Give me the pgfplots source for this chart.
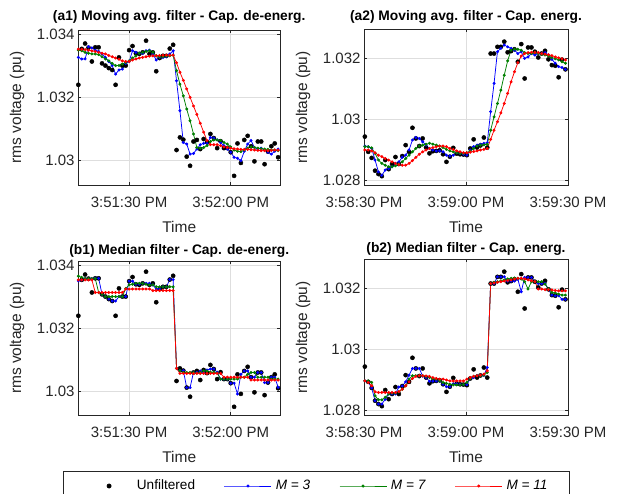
\documentclass[border=0pt]{standalone}
\usepackage{fontspec}
\setmainfont{Liberation Sans}
\usepackage{pgfplots}
\usepackage{pgfplotstable}
\pgfplotsset{compat=1.18}

\definecolor{mblue}{rgb}{0,0,1}
\definecolor{mgreen}{rgb}{0,0.5,0}
\definecolor{mred}{rgb}{1,0,0}
\definecolor{axgray}{rgb}{0.15,0.15,0.15}

% (a1)/(b1): seconds after 3:51:00 PM
\pgfplotstableread{
t u m3 m7 m11
15 1.03241 1.03328 1.03351 1.03354
16 1.03355 1.03323 1.03349 1.03354
17 1.03372 1.03323 1.03344 1.03353
18 1.03359 1.03362 1.03341 1.03351
19 1.03315 1.03358 1.03339 1.03349
20 1.03360 1.03351 1.03339 1.03347
21 1.03360 1.03347 1.03337 1.03344
22 1.03309 1.03339 1.03330 1.03341
23 1.03302 1.03328 1.03323 1.03339
24 1.03294 1.03315 1.03317 1.03334
25 1.03288 1.03302 1.03309 1.03330
26 1.03241 1.03275 1.03302 1.03326
27 1.03328 1.03288 1.03302 1.03322
28 1.03302 1.03291 1.03307 1.03317
29 1.03302 1.03309 1.03312 1.03315
30 1.03351 1.03315 1.03317 1.03315
31 1.03364 1.03349 1.03326 1.03320
32 1.03341 1.03344 1.03333 1.03323
33 1.03339 1.03341 1.03341 1.03326
34 1.03344 1.03341 1.03344 1.03328
35 1.03381 1.03349 1.03347 1.03330
36 1.03339 1.03351 1.03349 1.03332
37 1.03344 1.03339 1.03344 1.03333
38 1.03284 1.03320 1.03333 1.03333
39 1.03326 1.03328 1.03330 1.03334
40 1.03333 1.03328 1.03330 1.03335
41 1.03333 1.03330 1.03332 1.03335
42 1.03356 1.03339 1.03333 1.03335
43 1.03368 1.03349 1.03335 1.03335
44 1.03034 1.03254 1.03286 1.03311
45 1.03074 1.03159 1.03243 1.03281
46 1.03067 1.03058 1.03206 1.03255
47 1.03013 1.03053 1.03164 1.03228
48 1.02984 1.03021 1.03127 1.03201
49 1.03061 1.03023 1.03085 1.03174
50 1.03066 1.03037 1.03042 1.03147
51 1.03037 1.03051 1.03040 1.03119
52 1.03069 1.03055 1.03042 1.03091
53 1.03059 1.03055 1.03048 1.03064
54 1.03085 1.03074 1.03061 1.03051
55 1.03072 1.03072 1.03066 1.03051
56 1.03040 1.03066 1.03066 1.03051
57 1.03062 1.03058 1.03064 1.03048
58 1.03040 1.03048 1.03058 1.03044
59 1.03040 1.03037 1.03053 1.03042
60 1.03027 1.03027 1.03044 1.03040
61 1.02952 1.03011 1.03034 1.03038
62 1.03055 1.03008 1.03030 1.03037
63 1.02993 1.03000 1.03029 1.03036
64 1.03066 1.03030 1.03034 1.03036
65 1.03079 1.03053 1.03040 1.03036
66 1.03046 1.03064 1.03044 1.03035
67 1.02998 1.03042 1.03042 1.03034
68 1.03061 1.03037 1.03040 1.03033
69 1.03061 1.03040 1.03038 1.03032
70 1.02989 1.03034 1.03037 1.03032
71 1.03029 1.03027 1.03036 1.03032
72 1.03046 1.03021 1.03034 1.03033
73 1.03055 1.03030 1.03034 1.03034
74 1.03011 1.03037 1.03032 1.03034
}\tabAone

\pgfplotstableread{
t m3 m7 m11
15 1.03352 1.03367 1.03355
16 1.03355 1.03363 1.03355
17 1.03359 1.03359 1.03355
18 1.03359 1.03359 1.03355
19 1.03359 1.03359 1.03355
20 1.03360 1.03359 1.03315
21 1.03360 1.03315 1.03315
22 1.03309 1.03309 1.03315
23 1.03302 1.03302 1.03315
24 1.03294 1.03302 1.03315
25 1.03288 1.03302 1.03315
26 1.03288 1.03302 1.03315
27 1.03302 1.03302 1.03315
28 1.03302 1.03302 1.03315
29 1.03302 1.03328 1.03326
30 1.03351 1.03339 1.03326
31 1.03351 1.03341 1.03326
32 1.03341 1.03344 1.03326
33 1.03341 1.03344 1.03326
34 1.03344 1.03344 1.03326
35 1.03344 1.03341 1.03326
36 1.03344 1.03339 1.03326
37 1.03339 1.03339 1.03321
38 1.03326 1.03333 1.03321
39 1.03326 1.03333 1.03321
40 1.03333 1.03333 1.03321
41 1.03333 1.03333 1.03321
42 1.03356 1.03333 1.03321
43 1.03356 1.03333 1.03321
44 1.03074 1.03074 1.03074
45 1.03067 1.03067 1.03058
46 1.03067 1.03061 1.03058
47 1.03013 1.03061 1.03058
48 1.03013 1.03061 1.03058
49 1.03061 1.03061 1.03058
50 1.03061 1.03059 1.03058
51 1.03066 1.03061 1.03058
52 1.03059 1.03066 1.03058
53 1.03069 1.03066 1.03058
54 1.03072 1.03062 1.03058
55 1.03072 1.03062 1.03058
56 1.03062 1.03059 1.03058
57 1.03040 1.03040 1.03058
58 1.03040 1.03040 1.03046
59 1.03040 1.03040 1.03046
60 1.03027 1.03040 1.03046
61 1.03027 1.03040 1.03046
62 1.02993 1.03040 1.03046
63 1.03055 1.03046 1.03046
64 1.03066 1.03046 1.03046
65 1.03066 1.03055 1.03046
66 1.03046 1.03061 1.03037
67 1.03046 1.03061 1.03037
68 1.03061 1.03046 1.03037
69 1.03061 1.03046 1.03037
70 1.03029 1.03046 1.03037
71 1.03029 1.03046 1.03037
72 1.03046 1.03040 1.03037
73 1.03046 1.03040 1.03037
74 1.03014 1.03040 1.03037
}\tabBone

% (a2)/(b2): seconds after 3:58:00 PM
\pgfplotstableread{
t u m3 m7 m11
30.25 1.02943 1.02912 1.02910 1.02899
31.25 1.02893 1.02910 1.02910 1.02899
32.25 1.02873 1.02904 1.02906 1.02896
33.25 1.02831 1.02866 1.02888 1.02890
34.25 1.02820 1.02827 1.02866 1.02882
35.25 1.02813 1.02816 1.02855 1.02877
36.25 1.02866 1.02833 1.02849 1.02871
37.25 1.02836 1.02838 1.02844 1.02866
38.25 1.02853 1.02844 1.02844 1.02860
39.25 1.02876 1.02855 1.02847 1.02855
40.25 1.02853 1.02860 1.02853 1.02851
41.25 1.02879 1.02875 1.02860 1.02849
42.25 1.02915 1.02882 1.02871 1.02849
43.25 1.02893 1.02899 1.02882 1.02855
44.25 1.02972 1.02932 1.02893 1.02864
45.25 1.02937 1.02940 1.02904 1.02875
46.25 1.02912 1.02937 1.02912 1.02885
47.25 1.02937 1.02926 1.02915 1.02893
48.25 1.02907 1.02915 1.02918 1.02899
49.25 1.02888 1.02904 1.02921 1.02904
50.25 1.02895 1.02899 1.02918 1.02907
51.25 1.02896 1.02896 1.02915 1.02910
52.25 1.02898 1.02896 1.02912 1.02912
53.25 1.02885 1.02893 1.02907 1.02912
54.25 1.02860 1.02882 1.02901 1.02910
55.25 1.02877 1.02879 1.02896 1.02904
56.25 1.02906 1.02882 1.02893 1.02901
57.25 1.02887 1.02890 1.02890 1.02896
58.25 1.02885 1.02888 1.02888 1.02893
59.25 1.02884 1.02885 1.02888 1.02890
60.25 1.02882 1.02882 1.02890 1.02890
61.25 1.02904 1.02899 1.02896 1.02892
62.25 1.02934 1.02910 1.02904 1.02894
63.25 1.02907 1.02915 1.02912 1.02896
64.25 1.02914 1.02918 1.02915 1.02899
65.25 1.02940 1.02921 1.02916 1.02901
66.25 1.02907 1.02923 1.02918 1.02904
67.25 1.03216 1.03025 1.02964 1.02934
68.25 1.03216 1.03118 1.03008 1.02964
69.25 1.03238 1.03222 1.03052 1.02992
70.25 1.03238 1.03233 1.03096 1.03021
71.25 1.03255 1.03244 1.03145 1.03052
72.25 1.03220 1.03238 1.03192 1.03085
73.25 1.03224 1.03233 1.03227 1.03123
74.25 1.03230 1.03227 1.03230 1.03156
75.25 1.03189 1.03216 1.03230 1.03186
76.25 1.03247 1.03222 1.03227 1.03208
77.25 1.03134 1.03200 1.03219 1.03216
78.25 1.03236 1.03205 1.03216 1.03219
79.25 1.03236 1.03216 1.03216 1.03220
80.25 1.03222 1.03211 1.03219 1.03220
81.25 1.03203 1.03216 1.03216 1.03219
82.25 1.03216 1.03216 1.03214 1.03216
83.25 1.03225 1.03219 1.03211 1.03214
84.25 1.03197 1.03211 1.03208 1.03212
85.25 1.03178 1.03197 1.03203 1.03209
86.25 1.03176 1.03184 1.03199 1.03205
87.25 1.03138 1.03173 1.03195 1.03202
88.25 1.03196 1.03170 1.03189 1.03199
89.25 1.03164 1.03164 1.03184 1.03195
}\tabAtwo

\pgfplotstableread{
t m3 m7 m11
30.25 1.02896 1.02896 1.02896
31.25 1.02893 1.02896 1.02891
32.25 1.02873 1.02891 1.02880
33.25 1.02831 1.02847 1.02860
34.25 1.02820 1.02834 1.02858
35.25 1.02820 1.02834 1.02858
36.25 1.02836 1.02842 1.02858
37.25 1.02853 1.02853 1.02858
38.25 1.02853 1.02856 1.02858
39.25 1.02853 1.02856 1.02858
40.25 1.02876 1.02860 1.02861
41.25 1.02879 1.02869 1.02869
42.25 1.02893 1.02880 1.02880
43.25 1.02915 1.02902 1.02893
44.25 1.02937 1.02913 1.02904
45.25 1.02937 1.02913 1.02911
46.25 1.02937 1.02913 1.02913
47.25 1.02912 1.02913 1.02913
48.25 1.02907 1.02911 1.02912
49.25 1.02895 1.02907 1.02911
50.25 1.02895 1.02904 1.02907
51.25 1.02896 1.02902 1.02904
52.25 1.02896 1.02896 1.02902
53.25 1.02885 1.02891 1.02902
54.25 1.02877 1.02888 1.02899
55.25 1.02877 1.02885 1.02896
56.25 1.02887 1.02883 1.02896
57.25 1.02887 1.02883 1.02896
58.25 1.02885 1.02883 1.02896
59.25 1.02884 1.02884 1.02896
60.25 1.02884 1.02891 1.02902
61.25 1.02904 1.02904 1.02907
62.25 1.02907 1.02911 1.02911
63.25 1.02914 1.02913 1.02913
64.25 1.02914 1.02913 1.02915
65.25 1.02914 1.02915 1.02918
66.25 1.02940 1.02924 1.02929
67.25 1.03216 1.03216 1.03216
68.25 1.03216 1.03220 1.03218
69.25 1.03238 1.03222 1.03220
70.25 1.03238 1.03225 1.03222
71.25 1.03238 1.03228 1.03224
72.25 1.03224 1.03231 1.03226
73.25 1.03224 1.03233 1.03228
74.25 1.03224 1.03234 1.03231
75.25 1.03230 1.03233 1.03233
76.25 1.03189 1.03231 1.03233
77.25 1.03236 1.03222 1.03231
78.25 1.03236 1.03198 1.03228
79.25 1.03236 1.03222 1.03225
80.25 1.03222 1.03222 1.03222
81.25 1.03216 1.03222 1.03198
82.25 1.03216 1.03222 1.03198
83.25 1.03216 1.03214 1.03196
84.25 1.03197 1.03198 1.03196
85.25 1.03178 1.03187 1.03195
86.25 1.03176 1.03185 1.03193
87.25 1.03176 1.03181 1.03192
88.25 1.03164 1.03178 1.03192
89.25 1.03164 1.03178 1.03192
}\tabBtwo

\pgfplotsset{
  base/.style={
    scale only axis,
    anchor=south west,
    axis line style={draw=axgray, line width=0.6pt},
    tick style={draw=axgray, line width=0.6pt},
    major tick length=3pt,
    tick align=inside,
    xtick pos=both, ytick pos=both,
    grid=major,
    major grid style={draw=black!13, line width=0.5pt},
    ticklabel style={font=\fontsize{15}{18}\selectfont, text=axgray},
    label style={font=\fontsize{15.5}{18}\selectfont, text=axgray},
    title style={font=\bfseries\fontsize{13.8}{16}\selectfont, at={(axis description cs:0.5,1)}, anchor=base},
    xlabel={Time},
    ylabel={rms voltage (pu)},
    xlabel style={at={(axis description cs:0.5,0)}, anchor=base, yshift=-47.5pt},
    ylabel style={anchor=center},
    xticklabel style={anchor=base, yshift=-23pt},
    /pgf/number format/assume math mode=true,
    legend image code/.code={\draw[mark repeat=2,mark phase=2,##1] plot coordinates {(0pt,0pt) (23.5pt,0pt) (47pt,0pt)};},
  },
  unf/.style={only marks, mark=*, mark size=2.1pt, color=black},
  f3/.style={color=mblue, line width=0.75pt, mark=*, mark size=1.1pt},
  f7/.style={color=mgreen, line width=0.75pt, mark=*, mark size=1.1pt},
  f11/.style={color=mred, line width=0.75pt, mark=*, mark size=1.1pt},
}

\begin{document}
\begin{tikzpicture}
\path[use as bounding box] (0pt,0pt) rectangle (618pt,494pt);

% (a1)
\begin{axis}[base, at={(78pt,309pt)}, width=202.5pt, height=155pt,
  xmin=14.9, xmax=74.7, ymin=1.02923, ymax=1.03415,
  xtick={30,60}, xticklabels={3:51:30 PM,3:52:00 PM},
  ytick={1.03,1.032,1.034}, yticklabels={1.03,1.032,1.034},
  title={(a1) Moving avg. filter - Cap. de-energ.}, title style={yshift=3pt},
  ylabel style={at={(axis description cs:-0.301,0.5)}}]
\addplot[unf] table[x=t,y=u] {\tabAone};
\addplot[f3] table[x=t,y=m3] {\tabAone};
\addplot[f7] table[x=t,y=m7] {\tabAone};
\addplot[f11] table[x=t,y=m11] {\tabAone};
\end{axis}

% (a2)
\begin{axis}[base, at={(364pt,309pt)}, width=204pt, height=155.5pt,
  xmin=30, xmax=90, ymin=1.02784, ymax=1.03295,
  xtick={30,60,90}, xticklabels={3:58:30 PM,3:59:00 PM,3:59:30 PM},
  ytick={1.028,1.03,1.032}, yticklabels={1.028,1.03,1.032},
  title={(a2) Moving avg. filter - Cap. energ.}, title style={yshift=3pt},
  ylabel style={at={(axis description cs:-0.299,0.5)}}]
\addplot[unf] table[x=t,y=u] {\tabAtwo};
\addplot[f3] table[x=t,y=m3] {\tabAtwo};
\addplot[f7] table[x=t,y=m7] {\tabAtwo};
\addplot[f11] table[x=t,y=m11] {\tabAtwo};
\end{axis}

% (b1)
\begin{axis}[base, at={(78pt,79pt)}, width=202.5pt, height=154pt,
  xmin=14.9, xmax=74.7, ymin=1.02926, ymax=1.03415,
  xtick={30,60}, xticklabels={3:51:30 PM,3:52:00 PM},
  ytick={1.03,1.032,1.034}, yticklabels={1.03,1.032,1.034},
  title={(b1) Median filter - Cap. de-energ.}, title style={yshift=0.5pt},
  ylabel style={at={(axis description cs:-0.301,0.5)}},
  legend columns=4,
  legend style={at={(rel axis cs:-0.0741,-0.3617)}, anchor=north west,
    draw=axgray, line width=0.6pt, font=\fontsize{13.6}{16}\selectfont,
    inner xsep=22pt, inner ysep=8.5pt,
    nodes={inner sep=0pt, text height=10pt, text depth=3pt},
    /tikz/every odd column/.append style={column sep=4pt},
    /tikz/every even column/.append style={column sep=29pt}}]
\addplot[unf, forget plot] table[x=t,y=u] {\tabAone};
\addlegendimage{black, mark=*, mark size=2.1pt, draw opacity=0, mark options={draw opacity=1, fill opacity=1}}
\addlegendentry{Unfiltered}
\addplot[f3] table[x=t,y=m3] {\tabBone};
\addlegendentry{\textit{M = 3}}
\addplot[f7] table[x=t,y=m7] {\tabBone};
\addlegendentry{\textit{M = 7}}
\addplot[f11] table[x=t,y=m11] {\tabBone};
\addlegendentry{\textit{M = 11}}
\end{axis}

% (b2)
\begin{axis}[base, at={(364pt,79pt)}, width=204pt, height=155.5pt,
  xmin=30, xmax=90, ymin=1.02784, ymax=1.03295,
  xtick={30,60,90}, xticklabels={3:58:30 PM,3:59:00 PM,3:59:30 PM},
  ytick={1.028,1.03,1.032}, yticklabels={1.028,1.03,1.032},
  title={(b2) Median filter - Cap. energ.}, title style={yshift=0.5pt},
  ylabel style={at={(axis description cs:-0.299,0.5)}}]
\addplot[unf] table[x=t,y=u] {\tabAtwo};
\addplot[f3] table[x=t,y=m3] {\tabBtwo};
\addplot[f7] table[x=t,y=m7] {\tabBtwo};
\addplot[f11] table[x=t,y=m11] {\tabBtwo};
\end{axis}
\end{tikzpicture}
\end{document}
